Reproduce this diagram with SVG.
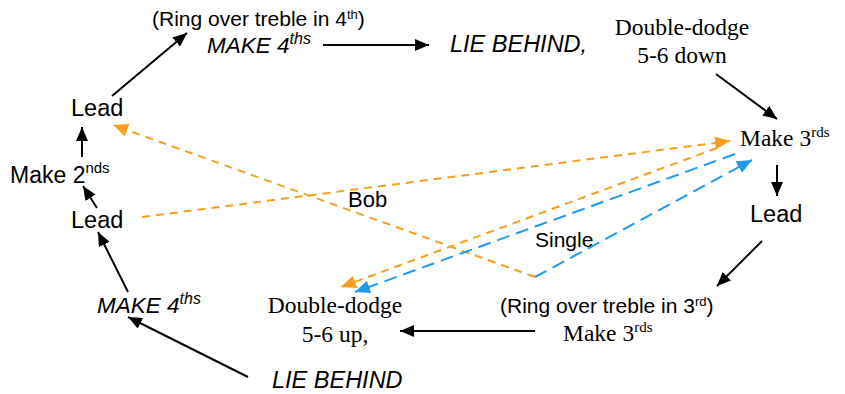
<svg xmlns="http://www.w3.org/2000/svg" width="845" height="394" viewBox="0 0 845 394">
<defs>
<style>
.sans{font-family:"Liberation Sans",Arial,sans-serif;fill:#000}
.serif{font-family:"Liberation Serif","Times New Roman",serif;fill:#000}
.it{font-style:italic}
.solid{stroke:#000;stroke-width:2;fill:none}
.dor{stroke:#F7A01E;stroke-width:2;fill:none;stroke-dasharray:8 6}
.dbl{stroke:#1C9BF0;stroke-width:2;fill:none;stroke-dasharray:13 7}
</style>
<marker id="ab" viewBox="0 0 14 12" refX="14" refY="6" markerWidth="14" markerHeight="12" markerUnits="userSpaceOnUse" orient="auto"><path d="M0,0 L14,6 L0,12 z" fill="#000"/></marker>
<marker id="ao" viewBox="0 0 15 13" refX="15" refY="6.5" markerWidth="15" markerHeight="13" markerUnits="userSpaceOnUse" orient="auto"><path d="M0,0 L15,6.5 L0,13 z" fill="#F7A01E"/></marker>
<marker id="abl" viewBox="0 0 15 13" refX="15" refY="6.5" markerWidth="15" markerHeight="13" markerUnits="userSpaceOnUse" orient="auto"><path d="M0,0 L15,6.5 L0,13 z" fill="#1C9BF0"/></marker>
</defs>

<g id="connectors">
<line class="solid" x1="112" y1="96" x2="187" y2="33" marker-end="url(#ab)"/>
<line class="solid" x1="323" y1="45" x2="429" y2="45" marker-end="url(#ab)"/>
<line class="solid" x1="716" y1="74" x2="777" y2="119" marker-end="url(#ab)"/>
<line class="solid" x1="777" y1="165" x2="777" y2="196" marker-end="url(#ab)"/>
<line class="solid" x1="762" y1="241" x2="717" y2="286" marker-end="url(#ab)"/>
<line class="solid" x1="535" y1="331" x2="400" y2="331" marker-end="url(#ab)"/>
<line class="solid" x1="248" y1="377" x2="128" y2="317" marker-end="url(#ab)"/>
<line class="solid" x1="128" y1="292" x2="98" y2="232" marker-end="url(#ab)"/>
<line class="solid" x1="97" y1="208" x2="83" y2="186" marker-end="url(#ab)"/>
<line class="solid" x1="82" y1="157" x2="82" y2="127" marker-end="url(#ab)"/>
<line class="dor" x1="535" y1="277" x2="113" y2="125" marker-end="url(#ao)"/>
<line class="dbl" x1="535" y1="277" x2="752" y2="160" marker-end="url(#abl)"/>
<line class="dor" x1="142" y1="217" x2="730" y2="141" marker-end="url(#ao)"/>
<line class="dor" x1="717" y1="148" x2="341" y2="287" marker-end="url(#ao)"/>
<line class="dbl" x1="735" y1="154" x2="355" y2="292" marker-end="url(#abl)"/>
</g>

<g id="ring4"><text class="sans" x="152" y="26" font-size="21">(Ring over treble in 4<tspan font-size="13" dy="-7">th</tspan><tspan dy="7">)</tspan></text></g>
<g id="make4-top"><text class="sans it" x="207" y="53" font-size="22.5">MAKE 4<tspan font-size="16" dy="-9">ths</tspan></text></g>
<g id="lie-behind-top"><text class="sans it" x="450" y="52" font-size="23.5">LIE BEHIND,</text></g>
<g id="dd-down"><text class="serif" x="682" y="35" font-size="23.5" text-anchor="middle">Double-dodge</text><text class="serif" x="682" y="63" font-size="23.5" text-anchor="middle">5-6 down</text></g>
<g id="make3-right"><text class="serif" x="740" y="146" font-size="23.5">Make 3<tspan font-size="15" dy="-9">rds</tspan></text></g>
<g id="lead-right"><text class="sans" x="750" y="222" font-size="23.5">Lead</text></g>
<g id="ring3"><text class="sans" x="500" y="313" font-size="21">(Ring over treble in 3<tspan font-size="13" dy="-7">rd</tspan><tspan dy="7">)</tspan></text></g>
<g id="make3-bottom"><text class="serif" x="563" y="341" font-size="23.5">Make 3<tspan font-size="15" dy="-9">rds</tspan></text></g>
<g id="dd-up"><text class="serif" x="335" y="313" font-size="23.5" text-anchor="middle">Double-dodge</text><text class="serif" x="335" y="342" font-size="23.5" text-anchor="middle">5-6 up,</text></g>
<g id="lie-behind-bottom"><text class="sans it" x="272" y="388" font-size="23.5">LIE BEHIND</text></g>
<g id="make4-left"><text class="sans it" x="97" y="313" font-size="22.5">MAKE 4<tspan font-size="16" dy="-9">ths</tspan></text></g>
<g id="lead-lower"><text class="sans" x="71" y="228" font-size="23.5">Lead</text></g>
<g id="make2"><text class="sans" x="10" y="183" font-size="23">Make 2<tspan font-size="15" dy="-10">nds</tspan></text></g>
<g id="lead-top"><text class="sans" x="71" y="116" font-size="23.5">Lead</text></g>
<g id="bob"><text class="sans" x="348" y="207" font-size="22">Bob</text></g>
<g id="single"><text class="sans" x="535" y="247" font-size="21">Single</text></g>
</svg>
